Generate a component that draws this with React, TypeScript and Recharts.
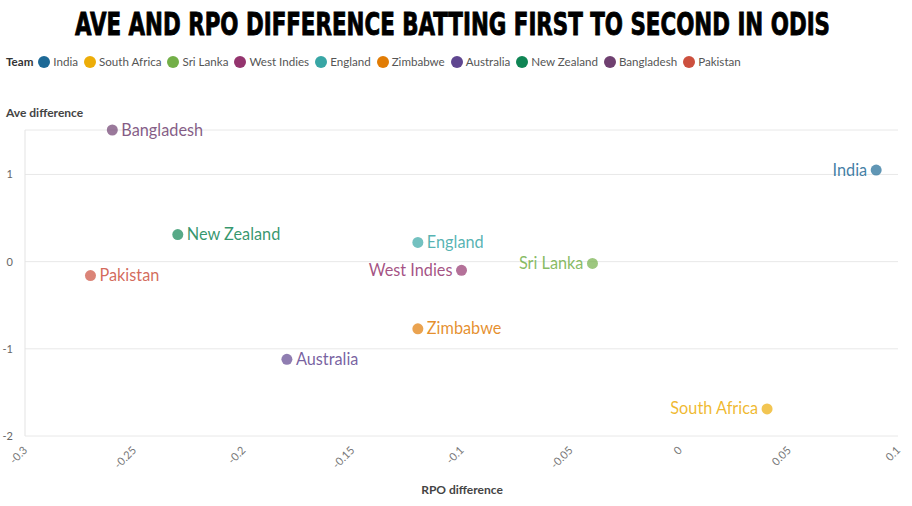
import { ScatterChart, Scatter, XAxis, YAxis, CartesianGrid, LabelList } from "recharts"

const teams = ["India", "South Africa", "Sri Lanka", "West Indies", "England", "Zimbabwe", "Australia", "New Zealand", "Bangladesh", "Pakistan"]
const rpoDiff = [0.09, 0.04, -0.04, -0.1, -0.12, -0.12, -0.18, -0.23, -0.26, -0.27]
const aveDiff = [1.05, -1.69, -0.02, -0.1, 0.22, -0.77, -1.12, 0.31, 1.51, -0.16]
const labelSide = ["left", "left", "left", "left", "right", "right", "right", "right", "right", "right"]
const COLORS = ["#1D6996", "#EDAD08", "#73AF48", "#94346E", "#38A6A5", "#E17C05", "#5F4690", "#0F8554", "#6F4070", "#CC503E"]

const xTicks = [-0.3, -0.25, -0.2, -0.15, -0.1, -0.05, 0, 0.05, 0.1]
const yTicks = [-2, -1, 0, 1]

const FONT = "Lato, 'Open Sans', sans-serif"

function XTick(props: any) {
  const { x, y, payload } = props
  return (
    <text x={x + 3} y={y + 7} transform={`rotate(-45 ${x + 3} ${y + 7})`} textAnchor="end" fontSize={11} fill="#777" fontFamily={FONT}>
      {payload.value}
    </text>
  )
}

function PointLabel(props: any) {
  const { x, y, width, height, value, index, side, color } = props
  const cx = x + width / 2
  const cy = y + height / 2
  const left = side === "left"
  return (
    <text x={left ? cx - 9 : cx + 9} y={cy} dy={5.5} textAnchor={left ? "end" : "start"} fontSize={16.3} fill={color} fillOpacity={0.85} fontFamily={FONT} key={index}>
      {value}
    </text>
  )
}

export default function App() {
  return (
    <div style={{ position: "absolute", left: 0, top: 0, width: 912, height: 506, background: "#fff", fontFamily: FONT }}>
      <svg width={912} height={60} style={{ position: "absolute", left: 0, top: 0 }}>
        <g transform="scale(1 1.25)">
          <text x={75} y={28} textLength={755} lengthAdjust="spacingAndGlyphs" fontSize={25.6} fontWeight={900} fontFamily="'DejaVu Sans Condensed', 'DejaVu Sans', sans-serif" fill="#000" stroke="#000" strokeWidth={0.7}>
            AVE AND RPO DIFFERENCE BATTING FIRST TO SECOND IN ODIS
          </text>
        </g>
      </svg>
      <div style={{ position: "absolute", left: 6, top: 55, display: "flex", alignItems: "center", fontSize: 11.6, color: "#555", whiteSpace: "nowrap" }}>
        <span style={{ fontWeight: 700, color: "#333", marginRight: 5 }}>Team</span>
        {teams.map((t, i) => (
          <span key={t} style={{ display: "flex", alignItems: "center", marginRight: 6 }}>
            <span style={{ width: 12, height: 12, borderRadius: 6, background: COLORS[i], marginRight: 3, display: "inline-block" }} />
            {t}
          </span>
        ))}
      </div>
      <div style={{ position: "absolute", left: 6, top: 105, fontSize: 12, fontWeight: 700, color: "#444" }}>Ave difference</div>
      <div style={{ position: "absolute", left: 0, width: 924, top: 482, textAlign: "center", fontSize: 12, fontWeight: 700, color: "#444" }}>RPO difference</div>
      <div style={{ position: "absolute", left: 0, top: 0 }}>
        <ScatterChart width={912} height={506} margin={{ top: 130, right: 14, bottom: 40, left: 5 }}>
          <CartesianGrid vertical={false} stroke="#e8e8e8" />
          <XAxis type="number" dataKey="x" domain={[-0.3, 0.1]} ticks={xTicks} axisLine={false} tickLine={false} height={30} tick={<XTick />} interval={0} />
          <YAxis type="number" dataKey="y" domain={[-2, 1.5]} ticks={yTicks} width={20} axisLine={{ stroke: "#e3e3e3" }} tickLine={false} tick={{ fontSize: 11, fill: "#666", fontFamily: FONT }} tickMargin={6} />
          {teams.map((t, i) => (
            <Scatter key={t} name={t} data={[{ x: rpoDiff[i], y: aveDiff[i], name: t }]} fill={COLORS[i]} fillOpacity={0.7} isAnimationActive={false} shape={(p: any) => <circle cx={p.cx} cy={p.cy} r={5.5} fill={COLORS[i]} fillOpacity={0.7} />}>
              <LabelList dataKey="name" content={(p: any) => <PointLabel {...p} side={labelSide[i]} color={COLORS[i]} />} />
            </Scatter>
          ))}
        </ScatterChart>
      </div>
    </div>
  )
}
